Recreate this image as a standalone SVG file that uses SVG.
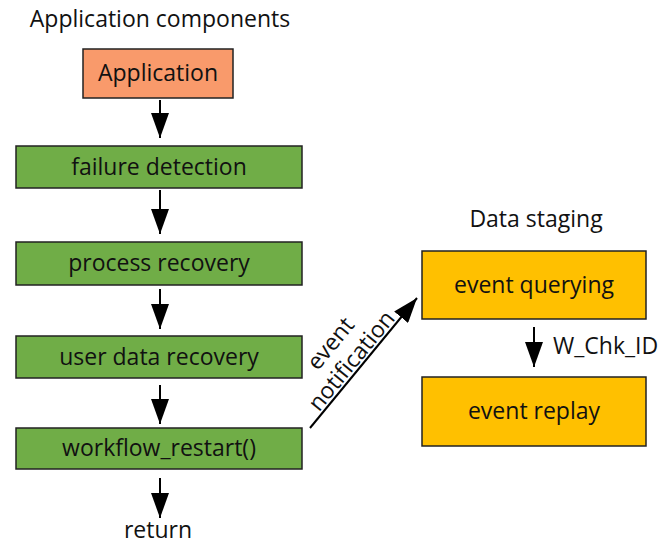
<svg xmlns="http://www.w3.org/2000/svg" width="669" height="546" viewBox="0 0 669 546">
  <style>
    text { font-family: "Open Sans", "Noto Sans", sans-serif; font-size: 23px; fill: #111; }
    .c { text-anchor: middle; }
    .box { stroke: #222; stroke-width: 1.5; }
    .app { fill: #F99A6B; }
    .step { fill: #70AD47; }
    .stage { fill: #FFC000; }
    .edge { stroke: #000; stroke-width: 2; fill: none; marker-end: url(#head); }
  </style>
  <defs>
    <marker id="head" markerUnits="userSpaceOnUse" markerWidth="26" markerHeight="18" refX="25" refY="9" orient="auto">
      <path d="M0,0 L25,9 L0,18 z" fill="#000"/>
    </marker>
  </defs>
  <rect width="669" height="546" fill="#fff"/>

  <!-- column titles -->
  <text class="c" x="160" y="27">Application components</text>
  <text class="c" x="536" y="227">Data staging</text>

  <g id="application">
    <rect class="box app" x="83" y="49" width="150" height="49"/>
    <text class="c" x="158" y="81">Application</text>
  </g>
  <g id="failure-detection">
    <rect class="box step" x="16" y="146" width="286" height="42"/>
    <text class="c" x="159" y="175">failure detection</text>
  </g>
  <g id="process-recovery">
    <rect class="box step" x="16" y="242" width="286" height="43"/>
    <text class="c" x="159" y="271">process recovery</text>
  </g>
  <g id="user-data-recovery">
    <rect class="box step" x="16" y="336" width="286" height="42"/>
    <text class="c" x="159" y="365">user data recovery</text>
  </g>
  <g id="workflow-restart">
    <rect class="box step" x="16" y="428" width="286" height="41"/>
    <text class="c" x="159" y="456">workflow_restart()</text>
  </g>
  <g id="return">
    <text class="c" x="158" y="538">return</text>
  </g>
  <g id="event-querying">
    <rect class="box stage" x="422" y="251" width="224" height="68"/>
    <text class="c" x="534" y="293">event querying</text>
  </g>
  <g id="event-replay">
    <rect class="box stage" x="422" y="377" width="224" height="69"/>
    <text class="c" x="534" y="419">event replay</text>
  </g>

  <g id="connectors">
    <line class="edge" x1="160" y1="100" x2="160" y2="138"/>
    <line class="edge" x1="160" y1="190" x2="160" y2="234"/>
    <line class="edge" x1="160" y1="289" x2="160" y2="329"/>
    <line class="edge" x1="160" y1="385" x2="160" y2="424"/>
    <line class="edge" x1="160" y1="478" x2="160" y2="518"/>
    <line class="edge" x1="534" y1="327" x2="534" y2="367"/>
    <line class="edge" x1="310" y1="428" x2="417" y2="298"/>
    <text x="553" y="354">W_Chk_ID</text>
    <g transform="translate(342,353) rotate(-50.5)">
      <text class="c" x="0" y="-7">event</text>
      <text class="c" x="0" y="20">notification</text>
    </g>
  </g>
</svg>
